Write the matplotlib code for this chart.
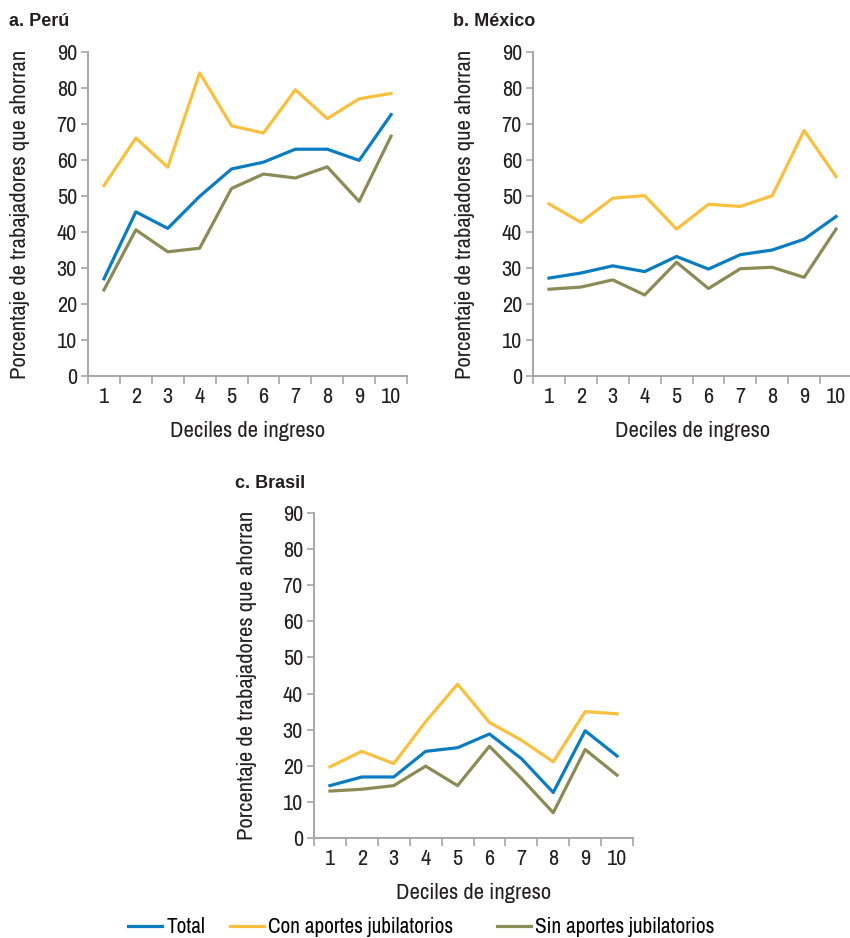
import matplotlib
matplotlib.use("Agg")
import matplotlib.pyplot as plt
from matplotlib.lines import Line2D

# Data (percent of workers who save, by income decile)
deciles = [1, 2, 3, 4, 5, 6, 7, 8, 9, 10]

peru_total = [27.0, 45.6, 41.0, 49.9, 57.5, 59.4, 63.0, 63.0, 59.9, 72.6]
peru_con = [52.9, 66.1, 58.0, 84.2, 69.5, 67.5, 79.5, 71.5, 77.0, 78.5]
peru_sin = [23.9, 40.6, 34.5, 35.5, 52.1, 56.1, 55.0, 58.1, 48.5, 66.6]

mexico_total = [27.2, 28.6, 30.6, 29.0, 33.2, 29.7, 33.7, 35.0, 38.0, 44.3]
mexico_con = [47.8, 42.7, 49.4, 50.1, 40.8, 47.7, 47.1, 50.1, 68.2, 55.4]
mexico_sin = [24.1, 24.7, 26.7, 22.5, 31.6, 24.3, 29.8, 30.2, 27.4, 40.8]

brasil_total = [14.5, 16.9, 16.9, 24.0, 25.0, 28.8, 22.0, 12.6, 29.7, 22.7]
brasil_con = [19.7, 24.0, 20.6, 32.2, 42.6, 32.0, 27.1, 21.1, 35.0, 34.4]
brasil_sin = [13.0, 13.5, 14.5, 19.9, 14.5, 25.4, 16.5, 7.0, 24.5, 17.4]

series_names = ["Total", "Con aportes jubilatorios", "Sin aportes jubilatorios"]
colors = ["#0a7cc1", "#f8c03e", "#8c8b55"]
yticks = list(range(0, 100, 10))

NARROW = ["Archivo Narrow", "DejaVu Sans"]
BOLD = ["Liberation Sans", "DejaVu Sans"]
GRAY = "#a6a6a6"
TXT = "#231f20"
FS = 16

W, H = 850, 938
fig = plt.figure(figsize=(W / 100, H / 100), dpi=100)


def px_axes(left, right, top, bottom):
    return fig.add_axes([left / W, 1 - bottom / H, (right - left) / W, (bottom - top) / H])


def panel(ax, title, total, con, sin, title_x, title_y, ylab_x):
    for vals, c in zip([total, con, sin], colors):
        ax.plot(deciles, vals, color=c, lw=2.3)
    ax.set_xlim(0.5, 10.5)
    ax.set_ylim(0, 90)
    ax.set_yticks(yticks)
    ax.set_yticklabels([str(v) for v in yticks], family=NARROW, fontsize=FS, color=TXT)
    # category boundaries get the tick marks, labels sit in the middle
    ax.set_xticks([d - 0.5 for d in deciles] + [10.5])
    ax.set_xticklabels([])
    ax.set_xticks(deciles, minor=True)
    ax.set_xticklabels([str(d) for d in deciles], minor=True, family=NARROW, fontsize=FS, color=TXT)
    ax.tick_params(axis="x", which="major", length=6, width=1.2, color=GRAY, direction="out")
    ax.tick_params(axis="x", which="minor", length=0, pad=8)
    ax.tick_params(axis="y", length=5, width=1.2, color=GRAY, pad=3)
    for s in ["top", "right"]:
        ax.spines[s].set_visible(False)
    for s in ["left", "bottom"]:
        ax.spines[s].set_color(GRAY)
        ax.spines[s].set_linewidth(1.4)
    ax.set_xlabel("Deciles de ingreso", family=NARROW, fontsize=16.3, color=TXT, labelpad=10)
    pos = ax.get_position()
    fig.text(ylab_x / W, (pos.y0 + pos.y1) / 2, "Porcentaje de trabajadores que ahorran",
             rotation=90, ha="center", va="center", family=NARROW, fontsize=16.3, color=TXT)
    fig.text(title_x / W, 1 - title_y / H, title, ha="left", va="center",
             family=BOLD, fontsize=13, fontweight="bold", color=TXT)


ax1 = px_axes(88, 407, 52, 376)
panel(ax1, "a. Perú", peru_total, peru_con, peru_sin, 9, 21, 20)

ax2 = px_axes(533, 852, 52, 376)
panel(ax2, "b. México", mexico_total, mexico_con, mexico_sin, 453, 21, 465)

ax3 = px_axes(314, 633, 513, 838)
panel(ax3, "c. Brasil", brasil_total, brasil_con, brasil_sin, 235, 483, 247)

# legend entries are not evenly spaced in the original, so place each one
legend_x = [128, 230, 497]
for name, c, lx in zip(series_names, colors, legend_x):
    fig.legend([Line2D([0], [0], color=c, lw=2.3)], [name], loc="center left",
               bbox_to_anchor=(lx / W, 1 - 927 / H), frameon=False, borderpad=0,
               borderaxespad=0, handlelength=1.6, handletextpad=0.2,
               prop={"family": NARROW, "size": 15.3})

fig.savefig("out.png", dpi=100)
